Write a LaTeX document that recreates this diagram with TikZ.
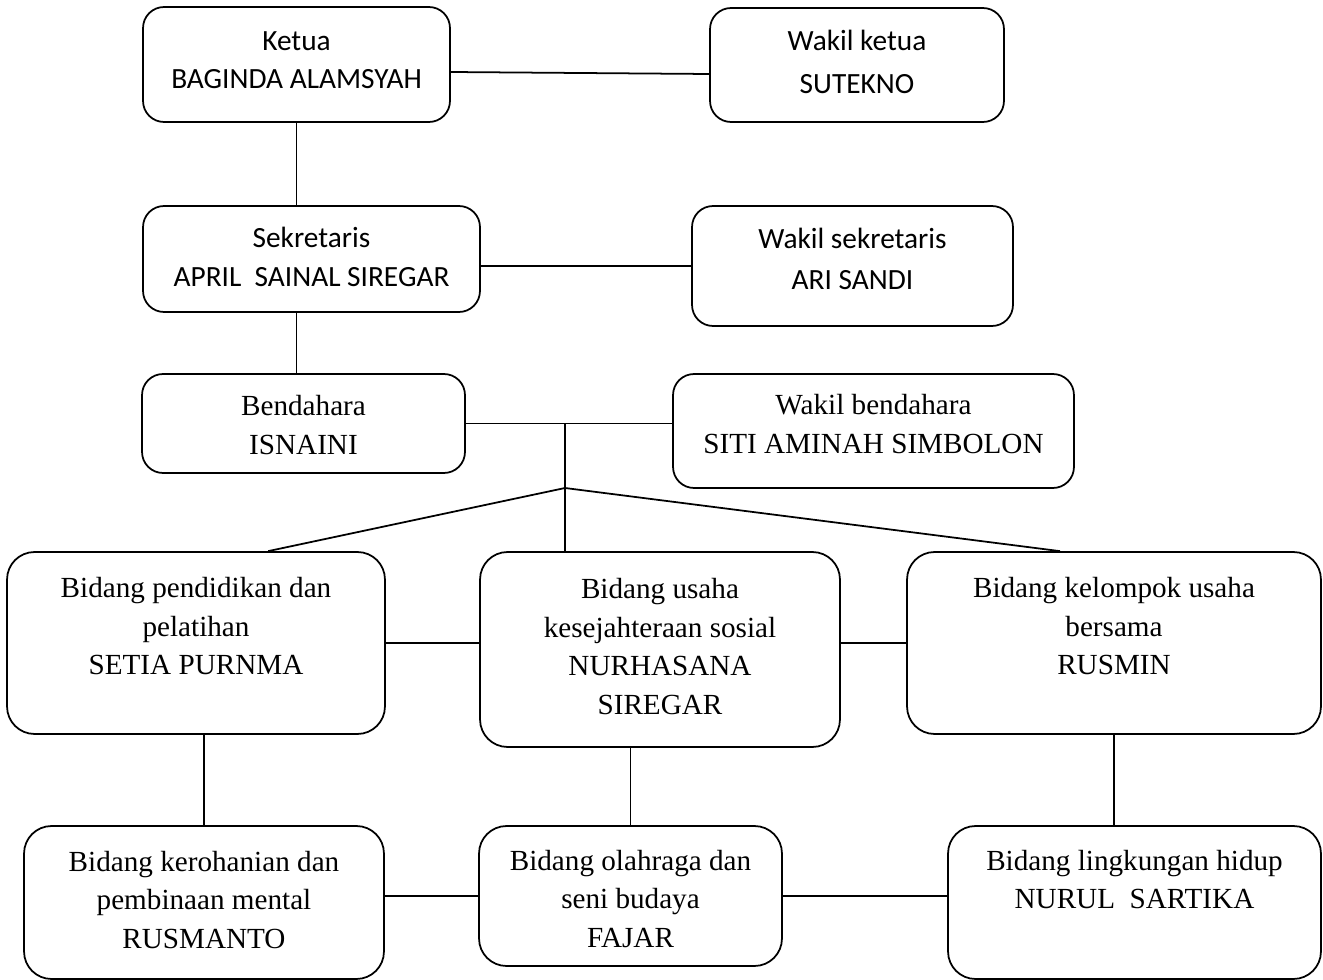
\documentclass[tikz,border=0pt]{standalone}
\usepackage{fontspec}
\setmainfont{Liberation Serif}
\newfontfamily\calibfont{Carlito}
\usetikzlibrary{positioning,calc}
\tikzset{
  box/.style={draw, rounded corners=0.42cm, line width=1pt, inner sep=0pt},
  bigbox/.style={draw, rounded corners=0.55cm, line width=1pt, inner sep=0pt},
  lbl/.style={anchor=north, inner sep=0pt, align=center, font=\fontsize{16.6}{22}\selectfont},
  lblsans/.style={anchor=north, inner sep=0pt, align=center, font=\calibfont\fontsize{16.7}{22.1}\selectfont},
  link/.style={line width=1pt}
}

\begin{document}
\begin{tikzpicture}[x=0.02cm, y=-0.02cm]
    \useasboundingbox (0,0) rectangle (1323,980);
    % pengurus inti
    \node[box, minimum width=6.14cm, minimum height=2.30cm] (ketua) at (296.5,64.5) {};
    \node[box, minimum width=5.88cm, minimum height=2.28cm] (wakilketua) at (857,65) {};
    \node[box, minimum width=6.74cm, minimum height=2.12cm] (sekretaris) at (311.5,259) {};
    \node[box, minimum width=6.42cm, minimum height=2.40cm] (wakilsek) at (852.5,266) {};
    \node[box, minimum width=6.46cm, minimum height=1.98cm] (bendahara) at (303.5,423.5) {};
    \node[box, minimum width=8.02cm, minimum height=2.28cm] (wakilbend) at (873.5,431) {};
    \node[lblsans] (ketua-t) at ([yshift=-0.33cm]ketua.north) {\strut Ketua\\BAGINDA ALAMSYAH};
    \node[lblsans] (wakilketua-t) at ([yshift=-0.31cm]wakilketua.north) {\strut Wakil ketua\\[0.1cm]SUTEKNO};
    \node[lblsans] (sekretaris-t) at ([yshift=-0.29cm]sekretaris.north) {\strut Sekretaris\\[0.02cm]APRIL\ \ SAINAL SIREGAR};
    \node[lblsans] (wakilsek-t) at ([yshift=-0.31cm]wakilsek.north) {\strut Wakil sekretaris\\[0.06cm]ARI SANDI};
    \node[lbl] (bendahara-t) at ([yshift=-0.30cm]bendahara.north) {\strut Bendahara\\ISNAINI};
    \node[lbl] (wakilbend-t) at ([yshift=-0.28cm]wakilbend.north) {\strut Wakil bendahara\\SITI AMINAH SIMBOLON};
    % bidang
    \node[bigbox, minimum width=7.56cm, minimum height=3.64cm] (pend) at (196,643) {};
    \node[bigbox, minimum width=7.20cm, minimum height=3.90cm] (usaha) at (660,649.5) {};
    \node[bigbox, minimum width=8.28cm, minimum height=3.64cm] (kelompok) at (1114,643) {};
    \node[bigbox, minimum width=7.20cm, minimum height=3.06cm] (rohani) at (204,902.5) {};
    \node[bigbox, minimum width=6.06cm, minimum height=2.80cm] (olahraga) at (630.5,896) {};
    \node[bigbox, minimum width=7.46cm, minimum height=3.06cm] (lingkungan) at (1134.5,902.5) {};
    \node[lbl] (pend-t) at ([yshift=-0.38cm]pend.north) {\strut Bidang pendidikan dan\\pelatihan\\SETIA PURNMA};
    \node[lbl] (usaha-t) at ([yshift=-0.40cm]usaha.north) {\strut Bidang usaha\\kesejahteraan sosial\\NURHASANA\\SIREGAR};
    \node[lbl] (kelompok-t) at ([yshift=-0.38cm]kelompok.north) {\strut Bidang kelompok usaha\\bersama\\RUSMIN};
    \node[lbl] (rohani-t) at ([yshift=-0.37cm]rohani.north) {\strut Bidang kerohanian dan\\pembinaan mental\\RUSMANTO};
    \node[lbl] (olahraga-t) at ([yshift=-0.35cm]olahraga.north) {\strut Bidang olahraga dan\\seni budaya\\FAJAR};
    \node[lbl] (lingkungan-t) at ([yshift=-0.35cm]lingkungan.north) {\strut Bidang lingkungan hidup\\NURUL\ \ SARTIKA};
    % garis
    \draw[link] ([yshift=-0.15cm]ketua.east) -- ([yshift=-0.18cm]wakilketua.west);
    \draw[link] (ketua.south) -- (ketua.south |- sekretaris.north);
    \draw[link] (sekretaris.east |- wakilsek.west) -- (wakilsek.west);
    \draw[link] (ketua.south |- sekretaris.south) -- (ketua.south |- bendahara.north);
    \draw[link] (bendahara.east) -- (bendahara.east -| wakilbend.west);
    \coordinate (fork) at (565,488);
    \draw[link] (fork |- bendahara.east) -- (fork);
    \draw[link] (fork) -- ($(pend.north west)!0.69!(pend.north east)$);
    \draw[link] (fork) -- (fork |- usaha.north);
    \draw[link] (fork) -- ($(kelompok.north west)!0.37!(kelompok.north east)$);
    \draw[link] (pend.east) -- (pend.east -| usaha.west);
    \draw[link] (kelompok.west -| usaha.east) -- (kelompok.west);
    \draw[link] (rohani.north) -- (rohani.north |- pend.south);
    \draw[link] (olahraga.north) -- (olahraga.north |- usaha.south);
    \draw[link] (kelompok.south) -- (kelompok.south |- lingkungan.north);
    \draw[link] (olahraga.west -| rohani.east) -- (olahraga.west);
    \draw[link] (olahraga.east) -- (olahraga.east -| lingkungan.west);
\end{tikzpicture}
\end{document}
